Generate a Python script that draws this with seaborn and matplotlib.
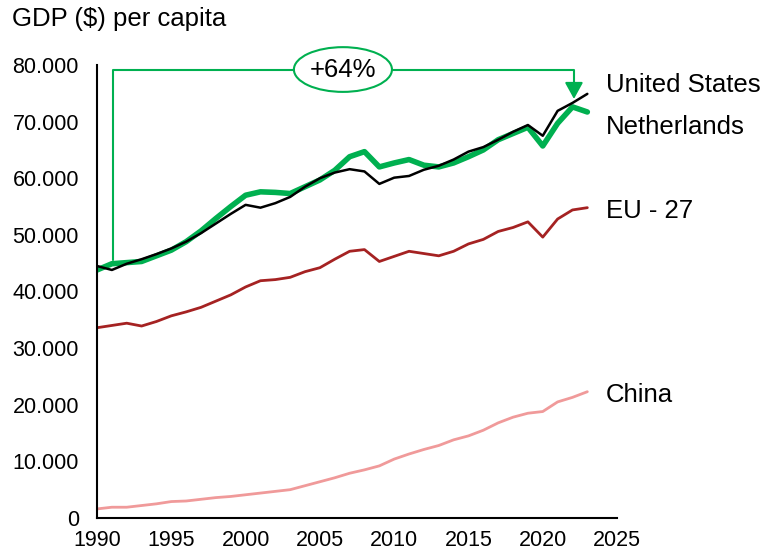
import seaborn as sns
import pandas as pd
import matplotlib
matplotlib.use('Agg')
from matplotlib import pyplot as plt
from matplotlib.patches import Ellipse
from matplotlib.ticker import FuncFormatter

years = list(range(1990, 2024))
united_states = [44500, 43800, 44900, 45700, 46600, 47600, 48800, 50300, 52000, 53700,
                 55300, 54800, 55600, 56700, 58500, 60000, 61000, 61600, 61200, 59000,
                 60100, 60400, 61500, 62200, 63300, 64700, 65500, 66800, 68200, 69400,
                 67500, 71900, 73300, 74900]
netherlands = [43800, 44900, 45100, 45300, 46300, 47300, 48800, 50700, 52900, 55000,
               57000, 57600, 57500, 57300, 58500, 59700, 61400, 63800, 64700, 62000,
               62700, 63300, 62300, 62000, 62700, 63800, 65000, 66800, 67900, 69000,
               65700, 69700, 72600, 71700]
eu27 = [33600, 34000, 34400, 33900, 34700, 35700, 36400, 37200, 38300, 39400,
        40800, 41900, 42100, 42500, 43500, 44200, 45700, 47100, 47400, 45300,
        46200, 47100, 46700, 46300, 47100, 48400, 49200, 50600, 51300, 52300,
        49600, 52800, 54400, 54800]
china = [1600, 1900, 1900, 2200, 2500, 2900, 3000, 3300, 3600, 3800,
         4100, 4400, 4700, 5000, 5700, 6400, 7100, 7900, 8500, 9200,
         10400, 11300, 12100, 12800, 13800, 14500, 15500, 16800, 17800, 18500,
         18800, 20500, 21300, 22300]

names = ['China', 'EU - 27', 'United States', 'Netherlands']
colors = {'China': '#F09A9A', 'EU - 27': '#A52222', 'United States': '#000000', 'Netherlands': '#00B050'}
widths = {'China': 2.0, 'EU - 27': 2.0, 'United States': 1.8, 'Netherlands': 4.0}
label_y = {'United States': 76500, 'Netherlands': 69000, 'EU - 27': 54200, 'China': 21800}

df = pd.DataFrame({'year': years, 'United States': united_states, 'Netherlands': netherlands,
                   'EU - 27': eu27, 'China': china})
long = df.melt(id_vars='year', var_name='region', value_name='gdp')

sns.set_style('white')
plt.rcParams['font.family'] = ['Liberation Sans', 'DejaVu Sans']
plt.rcParams['text.color'] = 'black'
plt.rcParams['xtick.color'] = 'black'
plt.rcParams['ytick.color'] = 'black'

fig = plt.figure(figsize=(7.67, 5.55), dpi=100)
ax = fig.add_axes([0.1265, 0.0667, 0.678, 0.8162])

for n in ['Netherlands', 'United States', 'EU - 27', 'China']:
    sns.lineplot(data=long[long.region == n], x='year', y='gdp', color=colors[n],
                 linewidth=widths[n], ax=ax, legend=False)

ax.set_xlim(1990, 2025)
ax.set_ylim(0, 80000)
ax.set_xticks(range(1990, 2026, 5))
ax.set_yticks(range(0, 80001, 10000))
ax.yaxis.set_major_formatter(FuncFormatter(lambda v, p: '0' if v == 0 else f'{int(v):,}'.replace(',', '.')))
ax.set_xlabel('')
ax.set_ylabel('')
for s in ['top', 'right']:
    ax.spines[s].set_visible(False)
for s in ['left', 'bottom']:
    ax.spines[s].set_color('black')
    ax.spines[s].set_linewidth(1.5)
ax.tick_params(axis='both', direction='out', length=5, width=1.5, labelsize=15.5,
               color='black', labelcolor='black')
ax.tick_params(axis='y', pad=8)

for n in names:
    ax.text(2024.25, label_y[n], n, fontsize=18.5, va='center', ha='left', clip_on=False)

fig.text(0.015, 0.965, 'GDP ($) per capita', fontsize=18.5, va='center', ha='left')

# growth bracket
g = '#00B050'
x0, x1 = 1991.1, 2022.1
ytop = 79200
ecx, ew, eh = 2006.55, 6.6, 7900
ax.plot([x0, x0, ecx - ew / 2], [netherlands[1] + 600, ytop, ytop], color=g, lw=1.5, clip_on=False)
ax.plot([ecx + ew / 2, x1, x1], [ytop, ytop, 76000], color=g, lw=1.5, clip_on=False)
ax.annotate('', xy=(x1, netherlands[32] + 1400), xytext=(x1, 76300),
            arrowprops=dict(arrowstyle='-|>,head_width=0.55,head_length=1.0', mutation_scale=10,
                            color=g, lw=1.5, shrinkA=0, shrinkB=0))
ax.add_patch(Ellipse((ecx, ytop), ew, eh, facecolor='white', edgecolor=g, lw=1.5, clip_on=False))
ax.text(ecx, ytop, '+64%', fontsize=18.5, ha='center', va='center')

fig.savefig('out.png', dpi=100)
